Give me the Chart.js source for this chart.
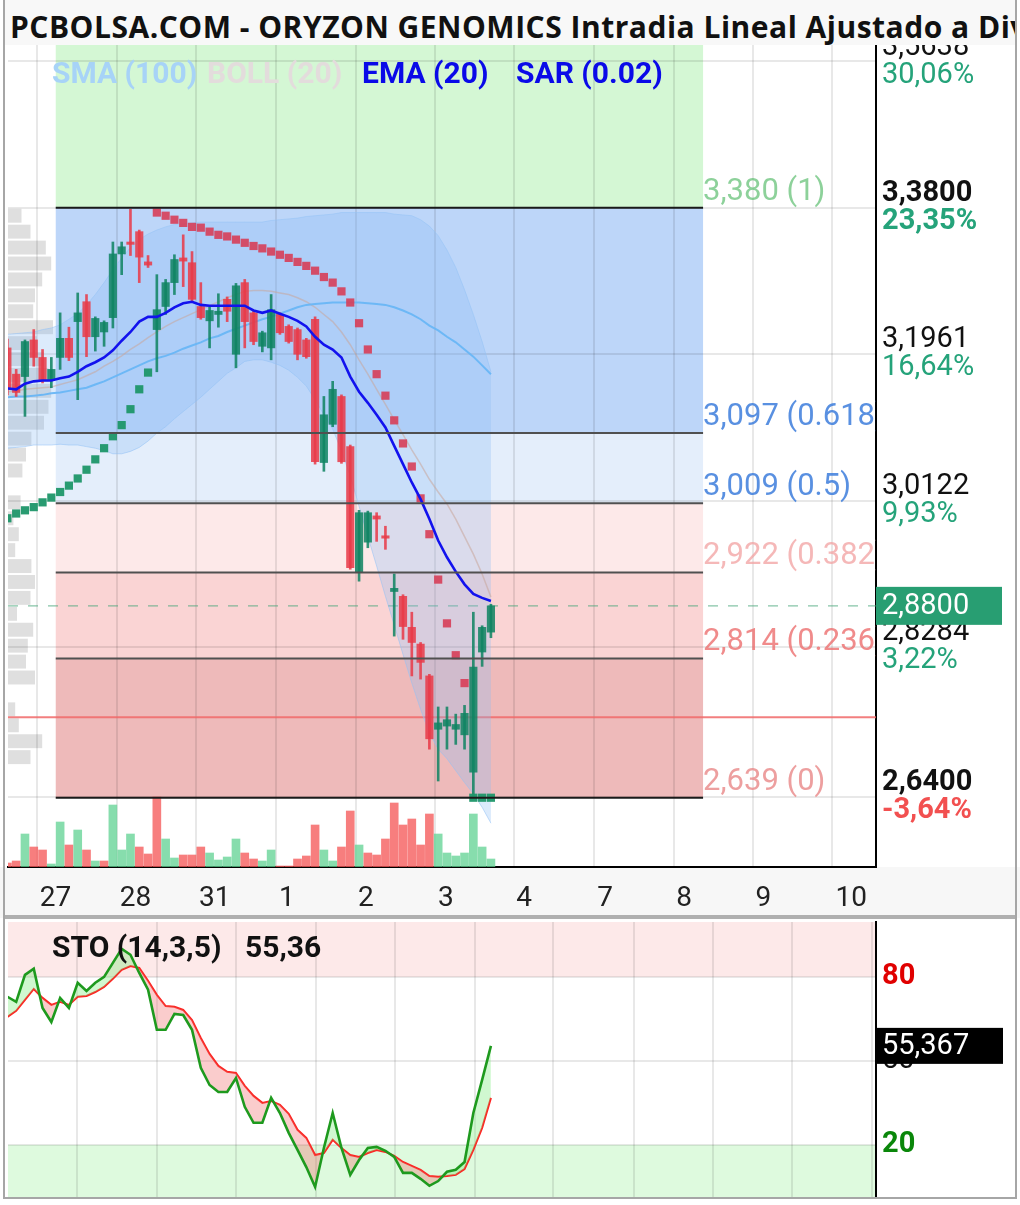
<!DOCTYPE html>
<html><head><meta charset="utf-8">
<script src="https://cdn.jsdelivr.net/npm/chart.js@4.4.1/dist/chart.umd.min.js"></script>
<style>
html,body{margin:0;padding:0;background:#fff;}
#wrap{position:relative;width:1020px;height:1205px;overflow:hidden;background:#fff;}
#c1{position:absolute;left:0;top:0;}
#c2{position:absolute;left:0;top:920px;}
#title{position:absolute;left:5px;top:0;width:1010px;height:45px;background:#f8f8f8;font:bold 30px 'Open Sans',sans-serif;letter-spacing:0.5px;line-height:54px;white-space:nowrap;overflow:hidden;color:#111;padding-left:5px;box-sizing:border-box;}
.lg{position:absolute;top:56px;font:bold 30px Roboto,sans-serif;line-height:34px;white-space:nowrap;}
.st{position:absolute;top:930px;font:bold 30px Roboto,sans-serif;line-height:34px;color:#111;white-space:nowrap;}
#frame{position:absolute;left:3px;top:0;width:1010px;height:1197px;border:2px solid #a6a6a6;border-top:none;pointer-events:none;}
#sep{position:absolute;left:3px;top:915px;width:1014px;height:4px;background:#b0b0b0;}
</style></head>
<body>
<div id="wrap">
  <canvas id="c1" width="1020" height="918"></canvas>
  <canvas id="c2" width="1020" height="282"></canvas>
  <div id="title">PCBOLSA.COM - ORYZON GENOMICS Intradia Lineal Ajustado a Dividendos</div>
  <div class="lg" style="left:52px;color:#a7d3f7">SMA (100)</div>
  <div class="lg" style="left:207px;color:#e3dcdc">BOLL (20)</div>
  <div class="lg" style="left:362px;color:#0a0ae8">EMA (20)</div>
  <div class="lg" style="left:516px;color:#0a0ae8">SAR (0.02)</div>
  <div class="st" style="left:52px">STO (14,3,5)</div>
  <div class="st" id="stoVal" style="left:245px"></div>
  <div id="sep"></div>
  <div id="frame"></div>
</div>
<script>
// ---------------- DATA ----------------
const candleOpen  = [3.204,3.171,3.168,3.214,3.192,3.164,3.192,3.216,3.237,3.262,
                     3.218,3.224,3.242,3.322,3.337,3.350,3.312,3.227,3.256,3.286,
                     3.317,3.311,3.256,3.238,3.246,3.265,3.196,3.286,3.248,3.206,
                     3.204,3.246,3.231,3.227,3.214,3.240,3.060,3.108,3.143,3.080,
                     2.922,2.960,2.993,2.968,2.898,2.892,2.853,2.832,2.792,2.725,
                     2.729,2.725,2.718,2.671,2.822,2.847];
const candleHigh  = [3.215,3.177,3.214,3.227,3.202,3.192,3.248,3.230,3.273,3.271,
                     3.243,3.238,3.337,3.337,3.378,3.352,3.320,3.296,3.290,3.321,
                     3.346,3.325,3.286,3.255,3.272,3.268,3.285,3.290,3.250,3.225,
                     3.271,3.248,3.233,3.229,3.216,3.243,3.143,3.162,3.145,3.082,
                     3.000,2.999,2.997,2.980,2.920,2.894,2.872,2.834,2.794,2.753,
                     2.753,2.744,2.755,2.872,2.855,2.882];
const candleLow   = [3.145,3.143,3.118,3.181,3.160,3.154,3.177,3.188,3.139,3.193,
                     3.200,3.206,3.229,3.296,3.320,3.286,3.305,3.174,3.246,3.271,
                     3.281,3.262,3.240,3.204,3.230,3.237,3.179,3.204,3.208,3.199,
                     3.189,3.221,3.210,3.189,3.191,3.058,3.049,3.105,3.059,2.926,
                     2.911,2.953,2.961,2.951,2.842,2.838,2.792,2.788,2.700,2.660,
                     2.700,2.706,2.700,2.641,2.804,2.840];
const candleClose = [3.152,3.148,3.212,3.192,3.164,3.177,3.216,3.192,3.248,3.218,
                     3.241,3.236,3.322,3.331,3.334,3.318,3.308,3.252,3.286,3.315,
                     3.313,3.265,3.242,3.251,3.250,3.250,3.282,3.237,3.212,3.223,
                     3.252,3.223,3.212,3.196,3.193,3.061,3.120,3.152,3.061,2.928,
                     2.997,2.997,2.989,2.965,2.902,2.854,2.834,2.809,2.713,2.733,
                     2.737,2.731,2.745,2.803,2.853,2.880];
const volume = [4000,6000,33000,20000,17000,3000,45000,22000,37000,17000,
                6000,6000,62000,17000,33000,20000,13000,70000,28000,9000,
                12000,12000,20000,14000,7000,10000,28000,14000,8000,6000,
                17000,1000,1000,8000,11000,42000,17000,6000,20000,56000,
                22000,14000,12000,28000,64000,42000,48000,22000,53000,33000,
                14000,11000,14000,53000,20000,8000];
const volumeUp = [0,0,1,0,0,1,1,0,1,0, 1,0,1,1,1,0,0,0,1,1, 0,0,0,1,1,1,1,0,0,1,
                  1,0,0,0,0,0,1,1,0,0, 1,0,0,0,0,0,0,0,0,1, 1,1,1,1,1,1];
const sar = [2.990,2.996,3.000,3.004,3.010,3.016,3.023,3.031,3.040,3.051,
             3.064,3.078,3.093,3.107,3.127,3.152,3.173,3.374,3.370,3.365,
             3.361,3.356,3.355,3.350,3.346,3.344,3.340,3.336,3.332,3.329,
             3.325,3.321,3.317,3.312,3.307,3.301,3.293,3.286,3.275,3.261,
             3.235,3.202,3.171,3.144,3.113,3.084,3.055,3.015,2.970,2.913,
             2.858,2.818,2.783,2.639,2.639,2.639];
const ema20 = [3.153,3.152,3.159,3.162,3.163,3.163,3.166,3.168,3.174,3.181,
               3.186,3.192,3.201,3.213,3.224,3.237,3.243,3.243,3.248,3.255,
               3.260,3.262,3.258,3.257,3.257,3.257,3.257,3.257,3.251,3.248,
               3.251,3.247,3.243,3.238,3.231,3.218,3.208,3.202,3.192,3.168,
               3.149,3.135,3.120,3.104,3.081,3.058,3.035,3.014,2.989,2.962,
               2.941,2.923,2.907,2.895,2.890,2.886];
const sma100 = [3.142,3.143,3.143,3.144,3.145,3.147,3.148,3.150,3.152,3.154,
                3.158,3.162,3.167,3.172,3.177,3.182,3.187,3.191,3.194,3.198,
                3.203,3.207,3.211,3.216,3.219,3.224,3.228,3.232,3.236,3.240,
                3.243,3.247,3.251,3.255,3.258,3.259,3.260,3.261,3.261,3.261,
                3.261,3.260,3.259,3.258,3.255,3.251,3.246,3.240,3.232,3.226,
                3.218,3.211,3.202,3.193,3.182,3.171];
const bollMid = [3.149,3.150,3.152,3.153,3.154,3.155,3.158,3.161,3.164,3.169,
                 3.174,3.181,3.187,3.194,3.202,3.209,3.217,3.224,3.231,3.237,
                 3.242,3.247,3.252,3.257,3.262,3.267,3.271,3.275,3.276,3.276,
                 3.275,3.273,3.271,3.267,3.262,3.255,3.246,3.237,3.224,3.208,
                 3.189,3.171,3.152,3.133,3.114,3.095,3.076,3.058,3.039,3.023,
                 3.008,2.989,2.967,2.945,2.920,2.891];
const bollUpper = [3.221,3.222,3.223,3.224,3.227,3.229,3.233,3.240,3.247,3.258,
                   3.271,3.286,3.302,3.317,3.330,3.340,3.347,3.352,3.356,3.359,
                   3.360,3.361,3.362,3.362,3.362,3.362,3.362,3.362,3.362,3.362,
                   3.364,3.365,3.366,3.367,3.369,3.370,3.371,3.372,3.374,3.374,
                   3.374,3.374,3.374,3.374,3.372,3.371,3.370,3.365,3.357,3.345,
                   3.327,3.305,3.277,3.246,3.212,3.174];
const bollLower = [3.078,3.079,3.080,3.082,3.082,3.082,3.083,3.082,3.082,3.080,
                   3.078,3.075,3.071,3.071,3.074,3.079,3.087,3.097,3.105,3.115,
                   3.124,3.133,3.142,3.152,3.162,3.172,3.179,3.187,3.189,3.189,
                   3.186,3.182,3.176,3.167,3.156,3.139,3.120,3.102,3.075,3.043,
                   3.005,2.967,2.930,2.892,2.856,2.819,2.783,2.750,2.720,2.700,
                   2.688,2.673,2.658,2.644,2.627,2.607];
const stoK = [72.9,71.1,80.7,82.9,68.9,63.9,72.5,68.9,77.9,75.0,
              77.9,80.0,85.0,90.0,87.9,81.4,75.4,61.1,61.1,66.8,
              66.4,61.1,47.5,41.4,38.9,38.9,43.9,33.6,27.9,27.9,
              36.8,31.4,24.3,18.2,12.1,5.0,18.9,31.4,18.9,9.3,
              14.6,18.9,19.3,17.9,15.7,10.0,10.0,7.9,5.4,7.1,
              10.4,11.1,13.9,31.4,43.2,55.367];
const stoD = [65.7,67.9,71.8,75.7,72.5,70.0,71.1,70.0,72.9,73.2,
              74.6,76.4,79.3,82.5,83.9,83.2,78.6,73.6,69.6,69.3,
              68.2,64.6,58.2,52.5,48.2,46.1,45.7,41.1,37.5,35.0,
              35.7,34.3,31.1,25.4,22.5,16.4,17.1,21.8,18.9,16.4,
              15.7,17.1,18.2,17.5,16.1,13.9,12.5,11.1,8.9,8.6,
              8.9,9.3,11.4,18.2,26.1,36.8];
const profileLow = [2.68,2.70,2.72,2.74,2.78,2.80,2.82,2.84,2.86,2.88,2.90,2.92,2.94,2.96,2.98,3.00,
                    3.04,3.06,3.08,3.10,3.12,3.14,3.16,3.18,3.20,3.22,3.24,3.26,3.28,3.30,3.32,3.34,3.36];
const profileVol = [25,38,12,8,30,20,22,28,10,25,30,26,8,12,6,14,
                    16,20,26,40,45,48,45,40,32,50,28,30,38,48,42,25,15];
const profileStep = 0.02;
const dayLabels = ['27','28','31','1','2','3','4','7','8','9','10'];
const dayTicks  = [7.9,17.0,26.0,35.1,44.1,53.2,62.1,71.3,80.3,89.3,98.4];
const priceTicks = [3.5638,3.3800,3.1961,3.0122,2.8284,2.6400];
const pctLabels  = ['30,06%','23,35%','16,64%','9,93%','3,22%','-3,64%'];
const keyTicks   = [3.3800,2.6400];
const fibLevels  = [3.380,3.097,3.009,2.922,2.814,2.639];
const fibRatios  = ['1','0.618','0.5','0.382','0.236','0'];
const fibStart = 5.5, fibEnd = 79.13;
const refClose = 2.74;
const stoTicks = [80,50,20];

// ---------------- HELPERS ----------------
const fmt = (v,d) => v.toFixed(d).replace('.', ',');
const pts = arr => arr.map((v,i) => ({x:i, y:v}));
const N = candleClose.length;
const up = candleClose.map((c,i) => c >= candleOpen[i]);
const CG = 'rgba(15,132,98,0.86)', CR = 'rgba(232,58,72,0.86)';
const candleCol = up.map(u => u ? CG : CR);
const fibZoneColors = ['rgb(212,247,212)','rgb(189,214,249)','rgb(228,238,251)','rgb(253,233,233)','rgb(250,212,212)','rgb(238,186,186)'];
const fibTextColors = ['rgba(80,185,100,0.65)','rgba(60,125,220,0.85)','rgba(60,125,220,0.85)','rgba(242,160,160,0.75)','rgba(236,110,110,0.8)','rgba(232,135,135,0.8)'];
const FONT = 'Roboto, sans-serif';

const mainDecor = {
  id: 'mainDecor',
  beforeDraw(chart) {
    const {ctx, chartArea: a, scales: {x, y, xp}} = chart;
    ctx.save();
    ctx.fillStyle = '#f7f7f7';
    ctx.fillRect(0, a.bottom, chart.width, chart.height - a.bottom);
    ctx.beginPath(); ctx.rect(a.left, a.top, a.right - a.left, a.bottom - a.top); ctx.clip();
    const x0 = x.getPixelForValue(fibStart), x1 = x.getPixelForValue(fibEnd);
    const bounds = [y.max, ...fibLevels];
    for (let k = 0; k < fibZoneColors.length; k++) {
      const yt = y.getPixelForValue(bounds[k]), yb = y.getPixelForValue(bounds[k+1]);
      ctx.fillStyle = fibZoneColors[k];
      ctx.fillRect(x0, yt, x1 - x0, yb - yt);
    }
    ctx.fillStyle = 'rgba(175,175,175,0.4)';
    profileLow.forEach((p, k) => {
      const yt = y.getPixelForValue(p + profileStep), yb = y.getPixelForValue(p);
      const w = xp.getPixelForValue(profileVol[k]) - xp.getPixelForValue(0);
      ctx.fillRect(a.left, yt + 1, w, yb - yt - 2);
    });
    ctx.restore();
  },
  beforeDatasetsDraw(chart) {
    const {ctx, chartArea: a, scales: {y}} = chart;
    ctx.save();
    const yr = y.getPixelForValue(refClose);
    ctx.strokeStyle = 'rgba(240,105,105,0.85)'; ctx.lineWidth = 2;
    ctx.beginPath(); ctx.moveTo(a.left, yr); ctx.lineTo(a.right, yr); ctx.stroke();
    const yc = y.getPixelForValue(candleClose[N-1]);
    ctx.setLineDash([10, 10]); ctx.strokeStyle = 'rgba(70,165,120,0.55)'; ctx.lineWidth = 1.5;
    ctx.beginPath(); ctx.moveTo(a.left, yc); ctx.lineTo(a.right, yc); ctx.stroke();
    ctx.restore();
  },
  afterDatasetsDraw(chart) {
    const {ctx, chartArea: a, scales: {x, y}} = chart;
    ctx.save();
    ctx.beginPath(); ctx.rect(a.left, a.top, a.right - a.left, a.bottom - a.top); ctx.clip();
    const x0 = x.getPixelForValue(fibStart), x1 = x.getPixelForValue(fibEnd);
    fibLevels.forEach((lv, k) => {
      const yy = y.getPixelForValue(lv);
      ctx.strokeStyle = (k === 0 || k === fibLevels.length - 1) ? '#1a1a1a' : '#505050';
      ctx.lineWidth = 2;
      ctx.beginPath(); ctx.moveTo(x0, yy); ctx.lineTo(x1, yy); ctx.stroke();
      ctx.font = '31px ' + FONT; ctx.fillStyle = fibTextColors[k];
      ctx.textAlign = 'left'; ctx.textBaseline = 'alphabetic';
      ctx.fillText(fmt(lv, 3) + ' (' + fibRatios[k] + ')', x1, yy - 8);
    });
    ctx.restore();
  },
  afterDraw(chart) {
    const {ctx, chartArea: a, scales: {y}} = chart;
    ctx.save();
    ctx.textAlign = 'left'; ctx.textBaseline = 'middle';
    priceTicks.forEach((p, k) => {
      const yy = y.getPixelForValue(p);
      const bold = keyTicks.includes(p);
      ctx.font = (bold ? 'bold ' : '') + '29px ' + FONT;
      ctx.fillStyle = '#111';
      ctx.fillText(fmt(p, 4), a.right + 6, yy - 14);
      ctx.fillStyle = pctLabels[k].startsWith('-') ? '#f25050' : '#25a37a';
      ctx.fillText(pctLabels[k], a.right + 6, yy + 14);
    });
    const last = candleClose[N-1];
    const yc = y.getPixelForValue(last);
    ctx.fillStyle = '#289e72';
    ctx.fillRect(a.right, yc - 19, 126, 38);
    ctx.fillStyle = '#fff'; ctx.font = '29px ' + FONT;
    ctx.fillText(fmt(last, 4), a.right + 6, yc + 1);
    ctx.restore();
  }
};

new Chart(document.getElementById('c1'), {
  type: 'bar',
  data: {
    datasets: [
      {type:'line', label:'EMA (20)', data: pts(ema20), borderColor:'#1212ee', borderWidth:2.6, pointRadius:0, order:1},
      {type:'line', label:'SAR (0.02)', data: pts(sar), showLine:false, pointStyle:'rect', pointRadius:5.8,
        pointBackgroundColor: sar.map((s,i) => s < candleClose[i] ? 'rgba(30,150,105,0.95)' : 'rgba(215,62,88,0.9)'),
        pointBorderWidth:0, order:2},
      {type:'bar', label:'body', data: candleOpen.map((o,i) => ({x:i, y:[o, candleClose[i]]})),
        backgroundColor: candleCol, barThickness:7.5, grouped:false, minBarLength:2, order:3},
      {type:'bar', label:'wick', data: candleLow.map((l,i) => ({x:i, y:[l, candleHigh[i]]})),
        backgroundColor: candleCol, barThickness:2, grouped:false, order:4},
      {type:'line', label:'SMA (100)', data: pts(sma100), borderColor:'rgba(105,182,245,0.95)', borderWidth:2, pointRadius:0, order:5},
      {type:'line', label:'BOLL mid', data: pts(bollMid), borderColor:'rgba(200,165,155,0.55)', borderWidth:1.5, pointRadius:0, order:6},
      {type:'line', label:'BOLL up', data: pts(bollUpper), borderColor:'rgba(150,195,245,0.55)', borderWidth:1, pointRadius:0,
        fill:'+1', backgroundColor:'rgba(140,190,245,0.3)', order:7},
      {type:'line', label:'BOLL low', data: pts(bollLower), borderColor:'rgba(150,195,245,0.55)', borderWidth:1, pointRadius:0, order:8},
      {type:'bar', label:'Volumen', data: volume.map((v,i) => ({x:i, y:v})), yAxisID:'yv',
        backgroundColor: volumeUp.map(u => u ? 'rgba(95,210,145,0.75)' : 'rgba(245,90,90,0.78)'),
        barThickness:8, grouped:false, order:9}
    ]
  },
  options: {
    responsive:false, animation:false,
    layout:{padding:{left:8, top:35, right:0, bottom:0}},
    plugins:{legend:{display:false}, tooltip:{enabled:false}},
    scales:{
      x:{type:'linear', min:0.07, max:98.8, offset:false, position:'bottom',
        afterBuildTicks: a => { a.ticks = dayTicks.map(v => ({value:v})); },
        ticks:{callback:(v,i) => dayLabels[i], align:'start', labelOffset:-37, padding:15,
          font:{family:'Roboto', size:28}, color:'#222', autoSkip:false, maxRotation:0},
        grid:{color:'rgba(0,0,0,0.09)', lineWidth:2, drawTicks:false},
        border:{display:true, color:'#000', width:2},
        afterFit: a => { a.height = 51; }},
      y:{type:'linear', position:'right', min:2.552, max:3.597,
        afterBuildTicks: a => { a.ticks = priceTicks.map(v => ({value:v})); },
        ticks:{display:false},
        grid:{color:'rgba(0,0,0,0.09)', lineWidth:2, drawTicks:false},
        border:{display:true, color:'#000', width:2},
        afterFit: a => { a.width = 144; }},
      yv:{type:'linear', display:false, min:0, max:832000},
      xp:{type:'linear', axis:'x', position:'bottom', display:false, min:0, max:868}
    }
  },
  plugins:[mainDecor]
});

// ---------------- STO PANEL ----------------
const kLast = stoK[N-1];
document.getElementById('stoVal').textContent = fmt(Math.floor(kLast*100)/100, 2);

const stoDecor = {
  id:'stoDecor',
  beforeDraw(chart) {
    const {ctx, chartArea:a, scales:{y}} = chart;
    ctx.save();
    ctx.beginPath(); ctx.rect(a.left, a.top, a.right - a.left, a.bottom - a.top); ctx.clip();
    const y80 = y.getPixelForValue(80), y20 = y.getPixelForValue(20);
    ctx.fillStyle = 'rgb(253,233,233)'; ctx.fillRect(a.left, a.top, a.right - a.left, y80 - a.top);
    ctx.fillStyle = 'rgb(222,250,222)'; ctx.fillRect(a.left, y20, a.right - a.left, a.bottom - y20);
    ctx.restore();
  },
  afterDraw(chart) {
    const {ctx, chartArea:a, scales:{y}} = chart;
    ctx.save();
    ctx.textAlign = 'left'; ctx.textBaseline = 'middle';
    const cols = {80:'#e00000', 50:'#111', 20:'#0a870a'};
    stoTicks.forEach(t => {
      ctx.font = (t === 50 ? '' : 'bold ') + '29px ' + FONT;
      ctx.fillStyle = cols[t];
      ctx.fillText(String(t), a.right + 6, y.getPixelForValue(t));
    });
    const yk = y.getPixelForValue(kLast);
    ctx.fillStyle = '#000';
    ctx.fillRect(a.right, yk - 18, 127, 36);
    ctx.fillStyle = '#fff'; ctx.font = '29px ' + FONT;
    ctx.fillText(fmt(kLast, 3), a.right + 6, yk + 1);
    ctx.restore();
  }
};

new Chart(document.getElementById('c2'), {
  type:'line',
  data:{
    datasets:[
      {label:'%K', data: pts(stoK), borderColor:'#1e9a1e', borderWidth:2.6, pointRadius:0,
        fill:{target:1, above:'rgba(120,235,120,0.35)', below:'rgba(240,110,110,0.35)'}},
      {label:'%D', data: pts(stoD), borderColor:'#ff2020', borderWidth:2, pointRadius:0}
    ]
  },
  options:{
    responsive:false, animation:false,
    layout:{padding:{left:8, top:2, right:0, bottom:5}},
    plugins:{legend:{display:false}, tooltip:{enabled:false}},
    scales:{
      x:{type:'linear', min:0.07, max:98.8, offset:false,
        afterBuildTicks: a => { a.ticks = dayTicks.map(v => ({value:v})); },
        ticks:{display:false},
        grid:{color:'rgba(0,0,0,0.09)', lineWidth:2, drawTicks:false},
        border:{display:false},
        afterFit: a => { a.height = 0; }},
      y:{type:'linear', position:'right', min:1.4, max:99.6,
        afterBuildTicks: a => { a.ticks = stoTicks.map(v => ({value:v})); },
        ticks:{display:false},
        grid:{color:'rgba(0,0,0,0.09)', lineWidth:2, drawTicks:false},
        border:{display:true, color:'#000', width:2},
        afterFit: a => { a.width = 144; }}
    }
  },
  plugins:[stoDecor]
});
</script>
</body></html>
